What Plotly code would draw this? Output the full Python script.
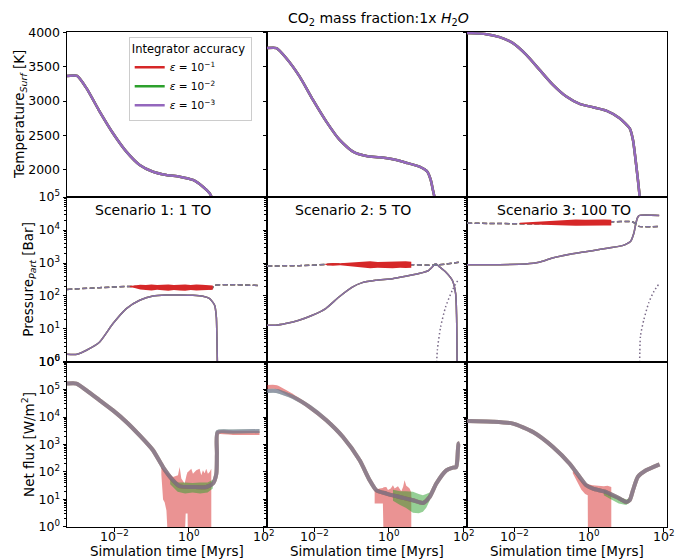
import numpy as np
import plotly.graph_objects as go
from plotly.subplots import make_subplots

RED = '#d62728'
GREEN = '#2ca02c'
PURPLE = '#9467bd'
FONT = 'DejaVu Sans'

# x values are log10(simulation time / Myrs); y of log panels are log10(value)
# ---------------- Row 1: surface temperature [K]
t1_lx = [-3.26, -2.99, -2.74, -2.386, -2.03, -1.672, -1.316, -0.96, -0.602, -0.247, 0.109, 0.376, 0.556, 0.644]
t1_T = [3365, 3365, 3187, 2847, 2533, 2266, 2073, 1975, 1927, 1903, 1855, 1757, 1662, 1565]
t2_lx = [-3.26, -3.009, -2.743, -2.386, -2.03, -1.672, -1.316, -0.96, -0.6, -0.247, 0.109, 0.465, 0.82, 1.03, 1.12, 1.178, 1.24]
t2_T = [3768, 3768, 3622, 3355, 3017, 2702, 2436, 2266, 2203, 2184, 2155, 2106, 2048, 1975, 1855, 1710, 1560]
t3_lx = [-3.26, -2.74, -2.386, -2.03, -1.672, -1.316, -0.96, -0.602, -0.247, 0.109, 0.465, 0.823, 1.09, 1.18, 1.25, 1.312, 1.37]
t3_T = [3987, 3971, 3927, 3840, 3670, 3452, 3235, 3065, 2959, 2911, 2862, 2751, 2606, 2436, 2145, 1855, 1560]

# ---------------- Row 2: partial pressures [bar] (log10)
# solid
p1_lx = [-3.26, -2.99, -2.74, -2.386, -2.03, -1.672, -1.316, -0.96, -0.6, -0.247, 0.109, 0.376, 0.556, 0.689, 0.735, 0.75, 0.778]
p1_ly = [0.233, 0.233, 0.355, 0.606, 1.163, 1.618, 1.87, 2.0, 2.03, 2.03, 2.02, 1.99, 1.92, 1.72, 1.36, 0.76, -1.0]
p2_lx = [-3.26, -3.027, -2.76, -2.404, -2.046, -1.69, -1.335, -0.978, -0.71, -0.354, 0.093, 0.449, 0.804, 1.07, 1.205, 1.25, 1.34, 1.52, 1.697, 1.786, 1.812, 1.83]
p2_ly = [1.112, 1.112, 1.163, 1.264, 1.415, 1.618, 1.97, 2.27, 2.405, 2.476, 2.526, 2.597, 2.68, 2.78, 2.93, 2.98, 2.9, 2.73, 2.476, 2.07, 1.36, -1.0]
p3_lx = [-3.26, -2.76, -1.69, -1.335, -0.977, -0.442, 0.093, 0.537, 0.896, 1.117, 1.205, 1.25, 1.296, 1.34, 1.88]
p3_ly = [2.95, 2.95, 2.97, 3.02, 3.15, 3.28, 3.375, 3.455, 3.527, 3.66, 3.91, 4.16, 4.36, 4.44, 4.44]
# dashed
d1_lx = [-3.26, -2.4, -1.58, -1.0, 0.0, 0.62, 0.68, 1.85]
d1_ly = [2.20, 2.25, 2.29, 2.25, 2.23, 2.23, 2.32, 2.32]
d2_lx = [-3.26, -2.4, -1.51, 0.58, 1.16, 1.3, 1.87]
d2_ly = [2.91, 2.92, 2.96, 2.95, 2.93, 2.94, 3.02]
d3_lx = [-3.26, -1.51, -0.62, 0.58, 1.16, 1.25, 1.34, 1.88]
d3_ly = [4.21, 4.19, 4.23, 4.25, 4.25, 4.19, 4.11, 4.11]
# dotted
o2_lx = [1.265, 1.296, 1.384, 1.518, 1.697, 1.874]
o2_ly = [-0.5, 0.355, 1.06, 1.667, 2.17, 2.527]
o3_lx = [1.355, 1.38, 1.47, 1.6, 1.74, 1.88]
o3_ly = [-0.5, 0.78, 1.28, 1.79, 2.14, 2.375]
# scatter band of the eps=1e-1 run (dashed curve)
nb1_lx = [-1.58, -1.45, -1.3, -1.15, -1.0, -0.85, -0.7, -0.55, -0.4, -0.25, -0.1, 0.05, 0.2, 0.35, 0.5, 0.64]
nb1_up = [2.30, 2.32, 2.34, 2.33, 2.35, 2.33, 2.34, 2.35, 2.33, 2.34, 2.35, 2.33, 2.35, 2.34, 2.33, 2.32]
nb1_lo = [2.27, 2.24, 2.20, 2.18, 2.17, 2.19, 2.17, 2.16, 2.18, 2.17, 2.16, 2.18, 2.17, 2.16, 2.18, 2.19]
nb2_lx = [-1.7, -1.5, -1.3, -1.1, -0.9, -0.7, -0.5, -0.3, -0.1, 0.1, 0.3, 0.45, 0.6]
nb2_up = [2.98, 3.00, 2.99, 3.01, 3.03, 3.04, 3.05, 3.03, 3.04, 3.05, 3.04, 3.05, 3.04]
nb2_lo = [2.94, 2.92, 2.93, 2.90, 2.87, 2.86, 2.84, 2.86, 2.85, 2.84, 2.86, 2.85, 2.86]
nb3_lx = [-1.85, -1.6, -1.35, -1.1, -0.85, -0.6, -0.35, -0.1, 0.15, 0.4, 0.6]
nb3_up = [4.22, 4.24, 4.25, 4.27, 4.29, 4.31, 4.32, 4.31, 4.32, 4.32, 4.31]
nb3_lo = [4.18, 4.17, 4.18, 4.16, 4.15, 4.14, 4.13, 4.14, 4.13, 4.14, 4.14]

# ---------------- Row 3: net flux [W/m^2] (log10)
f1_lx = [-3.26, -3.01, -2.74, -2.386, -2.03, -1.672, -1.316, -0.96, -0.693, -0.426, -0.247, 0.109, 0.467, 0.644, 0.735, 0.75, 0.77, 1.18, 1.89]
f1_ly = [5.215, 5.215, 4.97, 4.607, 4.24, 3.82, 3.33, 2.79, 2.18, 1.7, 1.48, 1.455, 1.455, 1.58, 1.94, 2.67, 3.455, 3.47, 3.49]
f1_red_ly = [5.215, 5.215, 4.97, 4.607, 4.24, 3.82, 3.33, 2.79, 2.18, 1.7, 1.48, 1.455, 1.455, 1.58, 1.94, 2.67, 3.43, 3.42, 3.42]
f2_lx = [-3.26, -3.009, -2.564, -2.118, -1.672, -1.228, -0.781, -0.514, -0.335, -0.068, 0.288, 0.644, 0.911, 1.09, 1.27, 1.537, 1.713, 1.8, 1.83, 1.866, 1.893]
f2_ly = [4.945, 4.945, 4.727, 4.364, 3.88, 3.27, 2.425, 1.7, 1.335, 1.215, 1.09, 0.97, 0.873, 1.09, 1.58, 2.06, 2.16, 2.18, 2.425, 3.03, 3.05]
f2_red_ly = [5.09, 5.09, 4.75, 4.364, 3.88, 3.27, 2.425, 1.7, 1.335, 1.215, 1.09, 0.97, 0.873, 1.09, 1.58, 2.06, 2.16, 2.18, 2.425, 3.03, 3.05]
f3_lx = [-3.26, -2.565, -2.03, -1.495, -0.96, -0.513, -0.247, -0.068, 0.109, 0.465, 0.823, 1.0, 1.09, 1.18, 1.31, 1.53, 1.89]
f3_ly = [3.855, 3.83, 3.76, 3.455, 2.91, 2.3, 1.82, 1.515, 1.395, 1.27, 1.03, 0.91, 0.97, 1.335, 1.82, 2.06, 2.28]
# spread of eps=1e-1 run
rb1_lx = [-0.736, -0.69, -0.648, -0.6, -0.559, -0.5, -0.425, -0.35, -0.291, -0.247, -0.202, -0.113, -0.085, -0.06, -0.035, -0.024, 0.065, 0.109, 0.198, 0.287, 0.332, 0.376, 0.42, 0.465, 0.51, 0.555, 0.6]
rb1_up = [2.18, 2.1, 2.06, 2.0, 1.95, 1.9, 1.82, 1.85, 1.88, 2.18, 1.76, 1.58, 1.85, 1.9, 2.0, 2.0, 2.12, 1.94, 2.06, 2.12, 1.88, 2.06, 1.95, 2.12, 1.94, 2.0, 2.12]
rb1_lo = [1.9, 1.0, 0.9, 0.6, -0.5, -0.5, -0.5, -0.5, -0.5, -0.5, -0.5, -0.5, 0.49, 0.49, 0.49, -0.5, -0.5, -0.5, -0.5, -0.5, -0.5, -0.5, -0.5, -0.5, -0.5, -0.5, -0.5]
rb2_lx = [-0.38, -0.3, -0.247, -0.16, -0.14, -0.068, -0.024, 0.05, 0.109, 0.154, 0.243, 0.332, 0.38, 0.42, 0.465, 0.51, 0.554, 0.6]
rb2_up = [1.34, 1.38, 1.40, 1.42, 1.44, 1.455, 1.34, 1.40, 1.52, 1.40, 1.48, 1.30, 1.45, 1.70, 1.50, 1.45, 1.40, 1.25]
rb2_lo = [0.85, 0.85, 0.85, 0.85, -0.5, -0.5, -0.5, -0.5, -0.5, -0.5, -0.5, -0.5, -0.5, -0.5, -0.5, -0.5, -0.5, -0.5]
rb3_lx = [-0.43, -0.3, -0.2, -0.1, -0.03, -0.025, 0.1, 0.2, 0.3, 0.4, 0.5, 0.6]
rb3_up = [2.05, 1.85, 1.7, 1.6, 1.55, 1.55, 1.52, 1.5, 1.5, 1.48, 1.5, 1.45]
rb3_lo = [1.95, 1.6, 1.35, 1.2, 1.15, -0.5, -0.5, -0.5, -0.5, -0.5, -0.5, -0.5]
# spread of eps=1e-2 run
gb1_lx = [-0.5, -0.3, -0.1, 0.1, 0.3, 0.5, 0.64]
gb1_up = [1.78, 1.62, 1.62, 1.6, 1.62, 1.62, 1.72]
gb1_lo = [1.55, 1.28, 1.22, 1.25, 1.22, 1.25, 1.40]
gb2_lx = [0.11, 0.3, 0.45, 0.644, 0.8, 0.911, 1.0, 1.09]
gb2_up = [1.35, 1.3, 1.3, 1.28, 1.2, 1.15, 1.2, 1.25]
gb2_lo = [0.95, 0.8, 0.7, 0.52, 0.5, 0.55, 0.7, 0.95]
gb3_lx = [0.4, 0.6, 0.8, 1.0, 1.09]
gb3_up = [1.35, 1.2, 1.1, 1.0, 1.05]
gb3_lo = [1.15, 1.0, 0.85, 0.8, 0.9]

# tick labels
x_tick_exp = [-2, 0, 2]
x_tick_text = ['10<sup>−2</sup>', '10<sup>0</sup>', '10<sup>2</sup>']

labels = ['<i>ε</i> = 10<sup>−1</sup>', '<i>ε</i> = 10<sup>−2</sup>', '<i>ε</i> = 10<sup>−3</sup>']
colors = [RED, GREEN, PURPLE]

fig = make_subplots(rows=3, cols=3, horizontal_spacing=0, vertical_spacing=0)


def P(v):
    return 10 ** np.asarray(v, dtype=float)


def line(lx, y, row, col, color, width, dash='solid', opacity=1.0, name=None, legend=False, shape='spline'):
    fig.add_trace(go.Scatter(x=P(lx), y=y, mode='lines', name=name, showlegend=legend,
                             opacity=opacity, hoverinfo='skip',
                             line=dict(color=color, width=width, dash=dash, shape=shape, smoothing=0.6)),
                  row=row, col=col)


def band(lx, up, lo, row, col, color):
    xs = list(lx) + list(lx)[::-1]
    ys = list(up) + list(lo)[::-1]
    fig.add_trace(go.Scatter(x=P(xs), y=P(ys), mode='lines', fill='toself', fillcolor=color,
                             line=dict(width=0, color=color), showlegend=False, hoverinfo='skip'),
                  row=row, col=col)


# Row 1
for c, (lx, T) in enumerate([(t1_lx, t1_T), (t2_lx, t2_T), (t3_lx, t3_T)], start=1):
    for k in range(3):
        line(lx, T, 1, c, colors[k], 2.5, name=labels[k], legend=(c == 1))

# Row 2
for c, (slx, sly, dlx, dly, nlx, nup, nlo) in enumerate([
        (p1_lx, p1_ly, d1_lx, d1_ly, nb1_lx, nb1_up, nb1_lo),
        (p2_lx, p2_ly, d2_lx, d2_ly, nb2_lx, nb2_up, nb2_lo),
        (p3_lx, p3_ly, d3_lx, d3_ly, nb3_lx, nb3_up, nb3_lo)], start=1):
    line(dlx, P(dly), 2, c, RED, 1.5, dash='5px,2.5px')
    for k in range(3):
        line(slx, P(sly), 2, c, colors[k], 1.5, opacity=0.85)
    line(dlx, P(dly), 2, c, GREEN, 1.5, dash='5px,2.5px')
    line(dlx, P(dly), 2, c, PURPLE, 1.5, dash='5px,2.5px', opacity=0.8)
    band(nlx, nup, nlo, 2, c, RED)
line(o2_lx, P(o2_ly), 2, 2, '#7a6a88', 1.5, dash='1.5px,2.5px')
line(o3_lx, P(o3_ly), 2, 3, '#7a6a88', 1.5, dash='1.5px,2.5px')

# Row 3
RB = 'rgba(214,39,40,0.5)'
GB = 'rgba(44,160,44,0.5)'
for c, (lx, ly, rly, rlx, rup, rlo, glx, gup, glo) in enumerate([
        (f1_lx, f1_ly, f1_red_ly, rb1_lx, rb1_up, rb1_lo, gb1_lx, gb1_up, gb1_lo),
        (f2_lx, f2_ly, f2_red_ly, rb2_lx, rb2_up, rb2_lo, gb2_lx, gb2_up, gb2_lo),
        (f3_lx, f3_ly, f3_ly, rb3_lx, rb3_up, rb3_lo, gb3_lx, gb3_up, gb3_lo)], start=1):
    band(rlx, rup, rlo, 3, c, RB)
    band(glx, gup, glo, 3, c, GB)
    line(lx, P(rly), 3, c, RED, 4, opacity=0.5)
    line(lx, P(ly), 3, c, GREEN, 4, opacity=0.5)
    line(lx, P(ly), 3, c, PURPLE, 4, opacity=0.5)

# ---------------- axes
XR = [-3.26, 2.09]
axis_common = dict(showline=True, mirror=True, linecolor='black', linewidth=1, showgrid=False, zeroline=False,
                   ticks='outside', ticklen=3.5, tickwidth=0.8, tickcolor='black',
                   tickfont=dict(family=FONT, size=12.5, color='black'))
minor_vals_p = [m * 10 ** e for e in range(-1, 6) for m in range(2, 10)]
minor_vals_f = [m * 10 ** e for e in range(-1, 7) for m in range(2, 10)]
for r in range(1, 4):
    for c in range(1, 4):
        fig.update_xaxes(row=r, col=c, type='log', range=XR, tickmode='array', tickvals=list(P(x_tick_exp)),
                         showticklabels=False, **axis_common)
        if r != 3:
            fig.update_xaxes(row=r, col=c, ticks='')
        if r == 1:
            fig.update_yaxes(row=r, col=c, range=[1608, 4002], tickmode='array',
                             tickvals=[2000, 2500, 3000, 3500, 4000], showticklabels=(c == 1), **axis_common)
        elif r == 2:
            fig.update_yaxes(row=r, col=c, type='log', range=[-0.002, 5.002], tickmode='array',
                             tickvals=[1, 10, 100, 1e3, 1e4, 1e5],
                             ticktext=['10<sup>%d</sup>' % i for i in range(6)],
                             minor=dict(ticks='outside', ticklen=2, tickwidth=0.6, tickcolor='black',
                                        tickvals=minor_vals_p),
                             showticklabels=(c == 1), **axis_common)
        else:
            fig.update_yaxes(row=r, col=c, type='log', range=[-0.002, 6.002], tickmode='array',
                             tickvals=[1, 10, 100, 1e3, 1e4, 1e5, 1e6],
                             ticktext=['10<sup>%d</sup>' % i for i in range(7)],
                             minor=dict(ticks='outside', ticklen=2, tickwidth=0.6, tickcolor='black',
                                        tickvals=minor_vals_f),
                             showticklabels=(c == 1), **axis_common)

# ---------------- layout & annotations
L, T, W, H = 67.3, 32.3, 600.0, 494.4


def px(x, y):
    return (x - L) / W, 1 - (y - T) / H


anns = []


def ann(text, x, y, size, angle=0):
    ax, ay = px(x, y)
    anns.append(dict(text=text, x=ax, y=ay, xref='paper', yref='paper', showarrow=False,
                     xanchor='center', yanchor='middle', textangle=angle,
                     font=dict(family=FONT, size=size, color='black')))


ann('CO<sub>2</sub> mass fraction:1x <i>H</i><sub>2</sub><i>O</i>', 379, 19, 14)
ann('Scenario 1: 1 TO', 153, 210, 14)
ann('Scenario 2: 5 TO', 353, 210, 14)
ann('Scenario 3: 100 TO', 564, 210, 14)
ann('Temperature<sub><i>Surf</i></sub> [K]', 21, 114.5, 13.5, -90)
ann('Pressure<sub><i>Part</i></sub> [Bar]', 29, 279, 13.5, -90)
ann('Net flux [W/m<sup>2</sup>]', 29, 444, 13.5, -90)
for cx in (167.3, 367.3, 567.3):
    ann('Simulation time [Myrs]', cx, 551, 13.5)

# x tick labels of the bottom row, anchored to the data positions of the ticks
_, tick_y = px(0, 535.5)
for c in range(1, 4):
    for e, txt in zip(x_tick_exp, x_tick_text):
        anns.append(dict(text=txt, x=e, y=tick_y, xref='x%d' % (6 + c), yref='paper', showarrow=False,
                         xanchor='center', yanchor='middle',
                         font=dict(family=FONT, size=12.5, color='black')))

lx0, ly0 = px(129, 37)
fig.update_layout(
    width=676, height=560,
    margin=dict(l=L, r=676 - L - W, t=T, b=560 - T - H, pad=0),
    paper_bgcolor='white', plot_bgcolor='white',
    font=dict(family=FONT, size=12, color='black'),
    annotations=anns,
    legend=dict(x=lx0, y=ly0, xanchor='left', yanchor='top', bgcolor='rgba(255,255,255,0.85)',
                bordercolor='#cccccc', borderwidth=1, font=dict(family=FONT, size=10.5),
                title=dict(text='Integrator accuracy ', side='top center', font=dict(family=FONT, size=11.5)),
                itemwidth=30, tracegroupgap=0),
)

fig.write_html('out.html')
